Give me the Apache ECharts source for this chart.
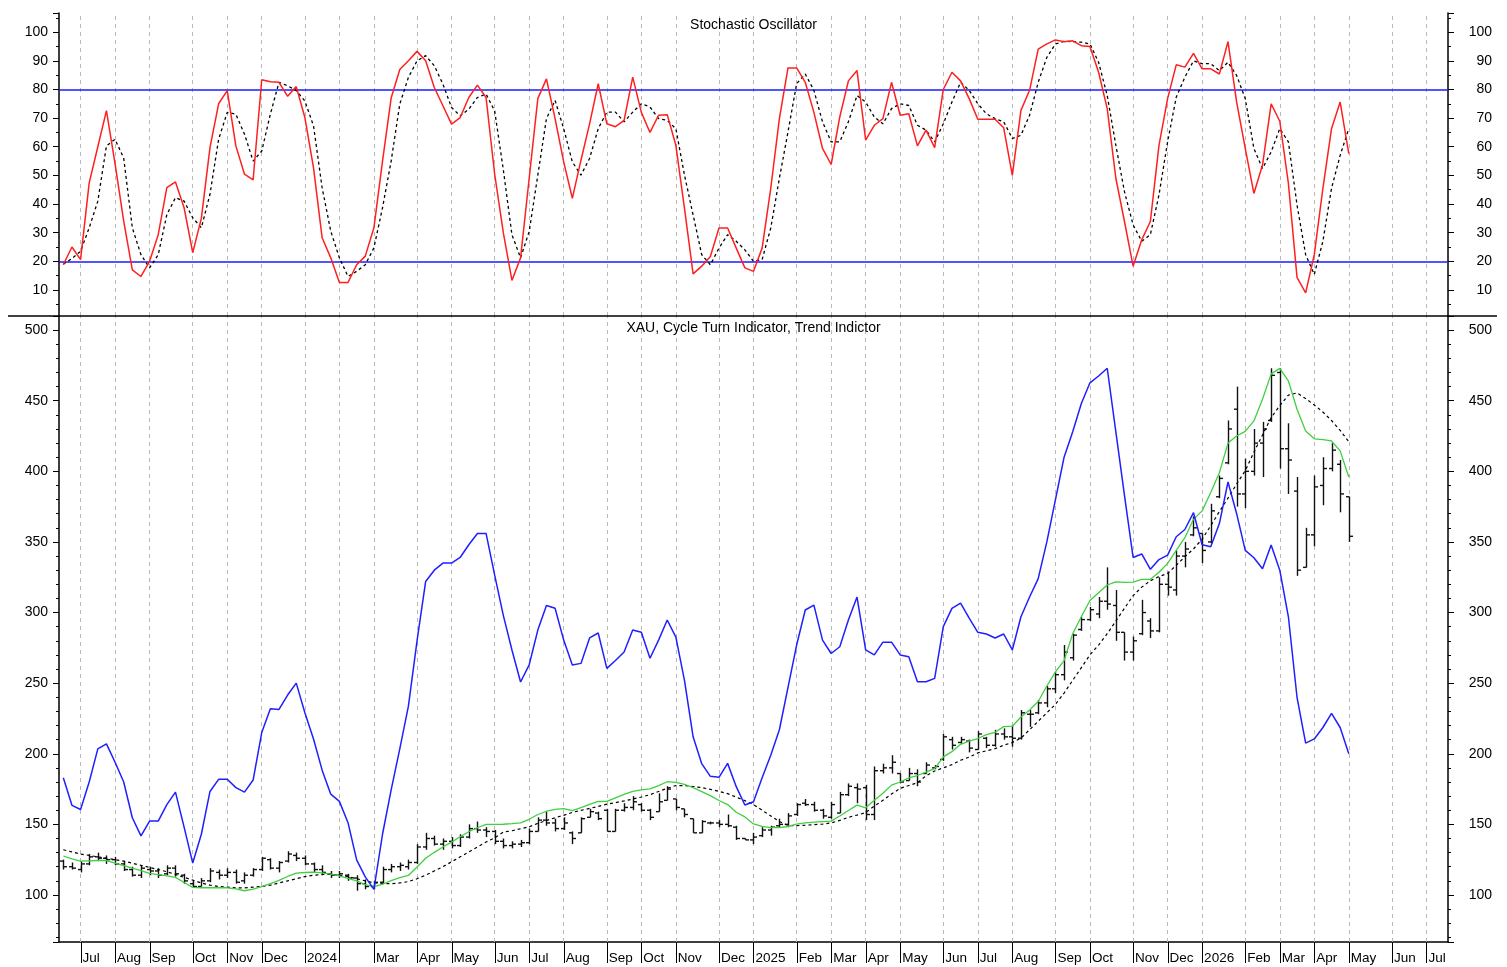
<!DOCTYPE html>
<html>
<head>
<meta charset="utf-8">
<title>XAU - Stochastic Oscillator / Cycle Turn Indicator</title>
<script src="https://cdn.jsdelivr.net/npm/echarts@6/dist/echarts.min.js"></script>
<style>
  html, body { margin: 0; padding: 0; background: #fff; }
  #chart { width: 1507px; height: 967px; }
</style>
</head>
<body>
<div id="chart"></div>
<script>
// weekly bars (Fridays), first week 2023-06-23, axis runs on to mid July 2026
const firstWeek = '2023-06-23';
const weekCount = 161;
const monthNames = ['Jan', 'Feb', 'Mar', 'Apr', 'May', 'Jun', 'Jul', 'Aug', 'Sep', 'Oct', 'Nov', 'Dec'];
const hiddenMonthLabels = ['2024-02-02'];

// stochastic %K (red) and %D (black dashed)
const stochK = [
  18.8, 25, 20.6, 47.4, 60, 72.6, 54, 34, 17, 14.7,
  20, 29.3, 45.7, 47.7, 38.7, 23, 35, 59.7, 75, 79.6,
  60.3, 50.4, 48.4, 83.4, 82.7, 82.5, 77.6, 81, 70.2, 52.7,
  28.2, 21.2, 12.6, 12.6, 18.8, 21.8, 31.7, 55, 77, 87,
  90, 93.3, 90, 80.7, 74.3, 67.9, 70.2, 77.2, 81.5, 77.2,
  50.4, 30, 13.3, 21.2, 49, 76.8, 83.7, 69.8, 54.7, 42,
  55.3, 68, 82, 68, 67, 69.2, 84.3, 72, 65, 71,
  71.2, 60.5, 38.5, 15.6, 18.3, 21.7, 31.6, 31.6, 24.6, 17.7,
  16.5, 24.6, 45.5, 69.8, 87.5, 87.5, 82.5, 72, 59.4, 53.8,
  70.4, 83, 86.6, 62.3, 67.5, 69.8, 82.5, 71, 71.5, 60.3,
  65.8, 59.7, 80, 86, 83, 76.8, 69.6, 69.6, 69.6, 66.6,
  50, 72.7, 79.7, 94.1, 95.9, 97.3, 96.7, 97, 95.3, 95,
  86, 73.3, 49, 33.9, 18.3, 27.5, 33.9, 60.5, 76.8, 88.6,
  87.8, 92.6, 87.2, 87.2, 85.4, 96.7, 75.6, 59.4, 43.7, 53.6,
  75, 68.9, 47.2, 14.4, 9, 22.3, 45.5, 66.3, 75.6, 57.6
];
const stochD = [
  19, 21, 23.5, 31.7, 41, 60.3, 62.6, 56, 31.7, 22.3,
  17.7, 22.3, 36.3, 42.2, 41, 35.2, 31.7, 43.4, 62.6, 72,
  71.4, 64.4, 55, 58.5, 71.4, 82.5, 81.3, 79.6, 76, 67.3,
  45.7, 30.5, 21.2, 14.7, 16.5, 18.8, 24.7, 38.7, 55, 74.9,
  84.2, 90, 91.8, 88.3, 81.9, 73.7, 70.8, 73.1, 77.2, 78.4,
  72.5, 52, 29.3, 21.2, 30.4, 50.1, 69.8, 76.2, 66.3, 54.7,
  50.1, 55.9, 66.3, 72.1, 72.1, 68.7, 72.1, 75, 73.9, 69.8,
  69.2, 66.3, 50.1, 36.2, 22.3, 18.8, 24.6, 29.3, 27, 24,
  20, 20.6, 31.6, 49, 65.2, 82, 85.4, 79.7, 68.7, 61.7,
  61.7, 68.7, 77.9, 75.6, 70.4, 68, 73.3, 75, 74.4, 67.5,
  65.8, 61.7, 68, 75.6, 82.5, 79.7, 75, 71.5, 69.8, 68.7,
  62.9, 64, 71, 82.5, 91.2, 95.9, 96.8, 96.7, 96.5, 95.9,
  89.5, 77.9, 60.5, 44.3, 32.7, 27, 29.3, 43.2, 61.7, 77.3,
  84.3, 90, 89, 89, 86.6, 89.5, 84.9, 76.8, 59.4, 52.4,
  58.2, 66.3, 61.7, 39.7, 22.3, 15.4, 27, 45.5, 57, 66.3
];
const stochBands = [80, 20];

// XAU weekly bars
const barOpen = [
  124, 120, 118, 122, 127, 126, 125, 122, 118, 114,
  118, 117, 115, 119, 114, 108, 106, 110, 116, 114,
  116, 110, 114, 118, 125, 119, 124, 128, 126, 122,
  118, 115, 114, 114, 112, 108, 106, 109, 118, 120,
  120, 123, 134, 140, 136, 138, 135, 141, 147, 146,
  145, 138, 135, 136, 137, 145, 153, 151, 147, 144,
  144, 155, 158, 160, 145, 160, 162, 164, 160, 159,
  167, 168, 161, 154, 144, 151, 151, 150, 148, 140,
  139, 142, 146, 149, 150, 157, 165, 164, 160, 155,
  158, 171, 176, 176, 157, 188, 190, 186, 181, 186,
  186, 190, 196, 210, 208, 209, 203, 211, 206, 214,
  212, 211, 228, 229, 236, 246, 256, 268, 288, 295,
  299, 308, 305, 286, 272, 285, 294, 287, 320, 316,
  340, 355, 356, 350, 382, 406, 444, 384, 400, 420,
  436, 470, 416, 386, 332, 355, 390, 402, 405, 382
];
const barHigh = [
  125, 123, 124, 129, 130, 128, 127, 124, 120, 121,
  120, 119, 121, 121, 115, 110, 112, 119, 118, 119,
  118, 116, 119, 127, 126, 124, 131, 130, 128, 123,
  121, 117, 117, 115, 114, 111, 110, 120, 122, 123,
  125, 136, 144, 142, 140, 141, 143, 150, 152, 148,
  146, 140, 138, 139, 147, 155, 159, 154, 155, 145,
  155, 161, 159, 161, 161, 165, 170, 165, 161, 172,
  177, 168, 161, 154, 153, 152, 153, 157, 149, 140,
  144, 148, 149, 154, 158, 165, 168, 166, 161, 166,
  173, 179, 179, 178, 191, 193, 199, 186, 190, 189,
  194, 192, 214, 212, 212, 210, 216, 212, 217, 218,
  220, 231, 231, 238, 248, 258, 277, 285, 297, 304,
  311, 332, 316, 286, 283, 309, 296, 325, 329, 344,
  350, 368, 356, 377, 397, 436, 460, 409, 430, 435,
  473, 473, 434, 396, 360, 397, 410, 420, 408, 382
];
const barLow = [
  118, 118, 116, 121, 124, 122, 121, 117, 113, 112,
  114, 112, 114, 113, 108, 105, 106, 109, 111, 112,
  108, 108, 113, 117, 118, 116, 123, 124, 121, 116,
  114, 112, 112, 110, 103, 104, 104, 108, 116, 117,
  118, 122, 132, 135, 132, 133, 134, 140, 144, 141,
  136, 133, 133, 134, 136, 145, 149, 145, 146, 136,
  144, 155, 153, 145, 145, 159, 160, 159, 153, 159,
  167, 160, 155, 144, 144, 150, 148, 148, 139, 139,
  136, 141, 142, 148, 148, 156, 163, 159, 154, 154,
  158, 170, 165, 153, 153, 186, 186, 179, 181, 177,
  186, 189, 195, 203, 207, 201, 203, 204, 205, 210,
  205, 210, 219, 228, 233, 243, 252, 266, 287, 294,
  296, 302, 280, 266, 266, 284, 282, 286, 312, 312,
  332, 354, 335, 349, 381, 405, 375, 374, 397, 396,
  435, 402, 384, 326, 332, 347, 376, 400, 371, 350
];
const barClose = [
  120, 119, 122, 127, 126, 125, 122, 118, 114, 119,
  117, 114, 119, 115, 110, 106, 110, 117, 114, 116,
  109, 114, 118, 126, 119, 123, 129, 126, 122, 118,
  116, 114, 115, 112, 108, 106, 109, 118, 120, 121,
  123, 134, 140, 136, 138, 135, 141, 147, 146, 145,
  138, 135, 136, 137, 145, 153, 151, 147, 151, 140,
  154, 159, 154, 145, 160, 162, 166, 160, 155, 166,
  175, 162, 157, 144, 152, 151, 150, 149, 140, 139,
  141, 146, 148, 150, 156, 164, 164, 160, 156, 164,
  171, 177, 175, 157, 188, 190, 194, 180, 186, 180,
  192, 191, 212, 206, 210, 204, 214, 206, 214, 212,
  211, 229, 228, 236, 246, 256, 272, 284, 295, 302,
  308, 306, 286, 272, 280, 300, 287, 320, 318, 340,
  345, 360, 344, 372, 395, 430, 384, 400, 420, 430,
  468, 416, 408, 330, 355, 389, 402, 415, 384, 354
];

// trend indicator (green) and slower trend (black dashed)
const trendFast = [
  127.6, 125.5, 124, 124.2, 124.4, 124.4, 122.6, 120.8, 119, 117.2,
  115.3, 114.4, 113.5, 112.5, 108.8, 105.4, 105.1, 105.1, 105.1, 105.1,
  104.3, 103, 104.2, 105.9, 108.1, 110.4, 113.1, 115.5, 115.9, 116.2,
  115.7, 114.8, 113.6, 111.7, 110, 107.4, 105.8, 107.6, 110.2, 112.3,
  113.8, 119.8, 126, 130.2, 134, 137.4, 141.2, 144.8, 147.6, 150,
  150, 150.1, 150.5, 151.1, 153.6, 157, 159.3, 160.6, 161.2, 159.8,
  161.9, 164.2, 166.2, 166.3, 168.8, 171.2, 173.4, 174.4, 175.1, 177.4,
  180.2, 179.8, 178.4, 176, 173.2, 170.4, 166.9, 164, 158.6, 155.3,
  150.3, 148.6, 147.7, 147.7, 148.5, 150.2, 151, 151.6, 152, 152.3,
  155.9, 159.8, 163.6, 161.7, 167, 172.1, 177.8, 180, 182.9, 184.6,
  187, 189.5, 197.8, 201.5, 206.7, 209, 210.8, 213.6, 215.2, 219.2,
  219.5, 226, 231, 237, 248, 258, 266, 285, 297, 308.5,
  314, 319.5, 321.7, 321.3, 321.5, 323.5, 323.5, 328.5, 334.8, 344,
  353, 366, 372, 385, 399, 420, 425, 428.3, 435.7, 451,
  469, 472.9, 464, 444, 428.5, 423, 422.5, 421.5, 414.5, 396
];
const trendSlow = [
  132, 130.5, 129, 128, 127, 126, 125, 124, 122.5, 121,
  119.5, 118, 116.5, 114.5, 112.5, 110.5, 108.5, 107, 106, 105.5,
  105, 105, 105.5, 106, 107, 108.5, 110, 111.5, 113, 114,
  114.5, 114.5, 114, 113, 111.5, 110, 108.5, 108, 108, 108.5,
  109.5, 111.5, 114, 117, 120, 123.5, 127, 130.5, 134, 137.5,
  140.5, 144.5, 145.5, 146.9, 148.3, 150.7, 152.7, 154.7, 156.4, 158.5,
  159.9, 161.3, 162.7, 164.3, 165.4, 166.6, 167.9, 169.4, 171, 173.3,
  175.5, 177.5, 177.5, 176.8, 176, 174.8, 173.4, 171.8, 169.3, 166.8,
  164, 160, 156, 152, 149.2, 149.1, 149.4, 149.8, 150.2, 151,
  152.8, 155, 156.6, 158.3, 163, 167, 171.5, 175.5, 177.5, 179.5,
  184.4, 187.8, 190, 192.3, 195.4, 197.6, 200.6, 202.1, 203.6, 206,
  208, 211, 217, 223, 229, 235, 243, 252, 261, 270,
  277, 285, 294, 303, 312, 318, 322.5, 325.5, 327.7, 333.5,
  339.5, 345, 352, 361.5, 371.5, 381, 391, 400.5, 413.5, 425.8,
  438, 446.5, 454, 455.5, 451.5, 447, 442, 436, 429, 421
];

// cycle turn indicator (blue)
const cycleTurn = [
  183, 163.5, 160.5, 180, 203.5, 207, 194, 180, 154.7, 141.9,
  152.3, 152.3, 164, 172.8, 148, 122.6, 143, 173.3, 181.9, 181.9,
  176, 172.8, 181.4, 215, 231.9, 231.4, 241.6, 250, 229, 210.5,
  188.4, 171.4, 166.3, 151.2, 124.9, 112.8, 104, 143, 174.4, 203.5,
  233.7, 280, 322, 330, 335, 335, 339, 348, 356, 356,
  326.5, 298, 273.5, 250.8, 263, 287.6, 305, 303, 280.5, 262.8,
  264, 282, 285.5, 260.5, 266, 272, 287.6, 286, 267.6, 280.5,
  294.7, 282.6, 252, 212, 193, 184, 183.3, 193.2, 176.7, 163.7,
  166, 183, 199, 217, 247, 277, 301.8, 305.3, 280.5, 271,
  275.8, 294.7, 311, 273.5, 270, 279, 279, 270, 268.7, 251,
  251, 253.4, 290, 303, 306.7, 296, 286, 284.8, 282, 284.8,
  273.5, 297, 311, 324, 350, 380, 410, 428, 448, 462.7,
  467.5, 473, 428, 383, 339, 341.5, 330.6, 337.5, 340.7, 353.7,
  358.8, 370.7, 348, 346.6, 363, 392.5, 370, 344, 338.8, 331,
  347.8, 330, 297, 240, 207.5, 210.5, 218.6, 228.6, 218.6, 200
];

const stochMin = 0.9, stochMax = 106.7;
const priceMin = 66.7, priceMax = 510;

const weeks = [];
const t0 = Date.parse(firstWeek + 'T00:00:00Z');
for (let i = 0; i < weekCount; i++) {
  weeks.push(new Date(t0 + i * 7 * 86400000).toISOString().slice(0, 10));
}
const isMonthStart = s => +s.slice(8, 10) <= 7;
const monthStarts = weeks.filter(isMonthStart);
const monthLabel = s => (s.slice(5, 7) === '01' ? s.slice(0, 4) : monthNames[+s.slice(5, 7) - 1]);

const ohlc = barOpen.map((o, i) => [i, o, barHigh[i], barLow[i], barClose[i]]);
const monthTickData = monthStarts.map(m => [weeks.indexOf(m)]);

const font = '"Liberation Sans", Arial, sans-serif';

const gridLines = {
  silent: true,
  symbol: 'none',
  z: 1,
  animation: false,
  label: { show: false },
  lineStyle: { color: '#b8b8b8', width: 1, type: [4, 4] },
  data: monthStarts.map(m => ({ xAxis: m }))
};

function yAxisCfg(grid, pos, min, max, step, minorSplit) {
  return {
    type: 'value', gridIndex: grid, position: pos,
    min: min, max: max, minInterval: step, maxInterval: step,
    axisLine: { show: true, lineStyle: { color: '#000', width: 1.5 } },
    axisTick: { show: true, length: 6, lineStyle: { color: '#000' } },
    minorTick: { show: true, splitNumber: minorSplit, length: 3, lineStyle: { color: '#000' } },
    splitLine: { show: false },
    axisLabel: {
      formatter: v => (Math.abs(v % step) < 1e-6 ? String(v) : ''),
      color: '#000', fontSize: 14, fontFamily: font,
      align: 'right', margin: pos === 'left' ? 11 : 44
    }
  };
}

const chart = echarts.init(document.getElementById('chart'));
chart.setOption({
  animation: false,
  backgroundColor: '#fff',
  title: [
    { text: 'Stochastic Oscillator', left: 'center', top: 13,
      textStyle: { fontSize: 14, fontWeight: 'normal', color: '#000', fontFamily: font } },
    { text: 'XAU, Cycle Turn Indicator, Trend Indictor', left: 'center', top: 316,
      textStyle: { fontSize: 14, fontWeight: 'normal', color: '#000', fontFamily: font } }
  ],
  grid: [
    { left: 59, width: 1389, top: 13, height: 303 },
    { left: 59, width: 1389, top: 316, height: 626 }
  ],
  xAxis: [
    { type: 'category', data: weeks, gridIndex: 0, boundaryGap: true,
      axisLine: { show: false }, axisTick: { show: false }, axisLabel: { show: false }, splitLine: { show: false } },
    { type: 'category', data: weeks, gridIndex: 1, boundaryGap: true, position: 'bottom',
      axisLine: { lineStyle: { color: '#000', width: 1.5 } },
      axisTick: { interval: 0, alignWithLabel: true, length: 6, lineStyle: { color: '#000' } },
      axisLabel: {
        interval: (i, v) => isMonthStart(v) && hiddenMonthLabels.indexOf(v) < 0,
        formatter: v => monthLabel(v),
        align: 'left', padding: [0, 0, 0, 2], margin: 9,
        color: '#000', fontSize: 13.5, fontFamily: font
      },
      splitLine: { show: false } }
  ],
  yAxis: [
    yAxisCfg(0, 'left', stochMin, stochMax, 10, 2),
    yAxisCfg(0, 'right', stochMin, stochMax, 10, 2),
    yAxisCfg(1, 'left', priceMin, priceMax, 50, 5),
    yAxisCfg(1, 'right', priceMin, priceMax, 50, 5)
  ],
  graphic: [
    { type: 'line', shape: { x1: 8, y1: 316, x2: 1497, y2: 316 },
      style: { stroke: '#000', lineWidth: 1.5 }, z: 100 }
  ],
  series: [
    { name: '%D', type: 'line', xAxisIndex: 0, yAxisIndex: 0, data: stochD,
      symbol: 'none', lineStyle: { color: '#000', width: 1.3, type: [3, 3] },
      markLine: gridLines, z: 2 },
    { name: '%K', type: 'line', xAxisIndex: 0, yAxisIndex: 0, data: stochK,
      symbol: 'none', lineStyle: { color: '#ff1f1f', width: 1.5 }, z: 3,
      markLine: {
        silent: true, symbol: 'none', z: 2, animation: false, label: { show: false },
        lineStyle: { color: '#1a1aff', width: 1.5, type: 'solid' },
        data: stochBands.map(v => ({ yAxis: v }))
      } },
    { name: 'XAU', type: 'custom', xAxisIndex: 1, yAxisIndex: 2, data: ohlc,
      encode: { x: 0, y: [1, 2, 3, 4] }, z: 2,
      renderItem: (params, api) => {
        const i = api.value(0);
        const pO = api.coord([i, api.value(1)]);
        const pH = api.coord([i, api.value(2)]);
        const pL = api.coord([i, api.value(3)]);
        const pC = api.coord([i, api.value(4)]);
        const x = Math.round(pH[0]) + 0.5;
        const st = () => ({ stroke: '#111', lineWidth: 1.4 });
        return {
          type: 'group',
          children: [
            { type: 'line', shape: { x1: x, y1: pH[1], x2: x, y2: pL[1] }, style: st() },
            { type: 'line', shape: { x1: x - 3.5, y1: pO[1], x2: x, y2: pO[1] }, style: st() },
            { type: 'line', shape: { x1: x, y1: pC[1], x2: x + 3.5, y2: pC[1] }, style: st() }
          ]
        };
      } },
    { name: 'Trend slow', type: 'line', xAxisIndex: 1, yAxisIndex: 2, data: trendSlow,
      symbol: 'none', lineStyle: { color: '#000', width: 1.2, type: [3, 3] },
      markLine: gridLines, z: 3 },
    { name: 'Trend Indicator', type: 'line', xAxisIndex: 1, yAxisIndex: 2, data: trendFast,
      symbol: 'none', lineStyle: { color: '#3fcf3f', width: 1.3 }, z: 4 },
    { name: 'Cycle Turn Indicator', type: 'line', xAxisIndex: 1, yAxisIndex: 2, data: cycleTurn,
      symbol: 'none', lineStyle: { color: '#1f1fff', width: 1.5 }, z: 5 },
    // long tick at the first week of each month, below the time axis
    { name: 'month ticks', type: 'custom', xAxisIndex: 1, yAxisIndex: 2, data: monthTickData,
      encode: { x: 0 }, clip: false, silent: true, z: 6,
      renderItem: (params, api) => {
        const p = api.coord([api.value(0), priceMin]);
        const x = Math.round(p[0]) + 0.5;
        return { type: 'line', shape: { x1: x, y1: p[1], x2: x, y2: p[1] + 21 },
                 style: { stroke: '#000', lineWidth: 1 } };
      } }
  ]
});
</script>
</body>
</html>
